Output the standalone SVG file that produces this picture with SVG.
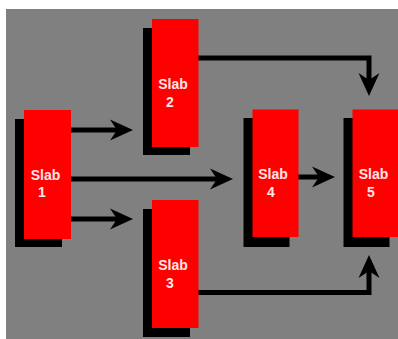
<svg xmlns="http://www.w3.org/2000/svg" width="398" height="339" viewBox="0 0 398 339">
<style>
.bg{fill:#808080}
.sh{fill:#000}
.slab{fill:#ff0000}
.t{font-family:"Liberation Sans",Arial,sans-serif;font-weight:bold;font-size:14px;fill:#ffe6e6;text-anchor:middle}
.c{fill:none;stroke:#000;stroke-width:5;stroke-linejoin:miter}
</style>
<defs>
<marker id="ah" markerUnits="userSpaceOnUse" orient="auto" viewBox="-25 -12 26 24" refX="-12" refY="0" markerWidth="26" markerHeight="24">
<path d="M0,0 L-23,-10.5 L-16,0 L-23,10.5 Z" fill="#000"/>
</marker>
</defs>
<rect class="bg" x="6" y="9" width="392" height="330"/>
<g id="connectors">
<path class="c" d="M70,130 H121" marker-end="url(#ah)"/>
<path class="c" d="M70,179 H221" marker-end="url(#ah)"/>
<path class="c" d="M70,219 H121" marker-end="url(#ah)"/>
<path class="c" d="M298,177 H323" marker-end="url(#ah)"/>
<path class="c" d="M198,58 H369 V84" marker-end="url(#ah)"/>
<path class="c" d="M198,292.5 H369 V267" marker-end="url(#ah)"/>
</g>
<g id="slab1">
<rect class="sh" x="15" y="119" width="47" height="128"/>
<rect class="slab" x="24" y="110" width="47" height="129"/>
<text class="t" x="45.5" y="180">Slab</text>
<text class="t" x="42" y="197">1</text>
</g>
<g id="slab2">
<rect class="sh" x="143" y="28" width="47" height="127"/>
<rect class="slab" x="152" y="19" width="46.5" height="128"/>
<text class="t" x="173" y="88.5">Slab</text>
<text class="t" x="170" y="106.5">2</text>
</g>
<g id="slab3">
<rect class="sh" x="143" y="209" width="47" height="128"/>
<rect class="slab" x="152" y="200" width="46.5" height="128"/>
<text class="t" x="173" y="269.5">Slab</text>
<text class="t" x="170" y="287.5">3</text>
</g>
<g id="slab4">
<rect class="sh" x="243.5" y="118" width="46" height="129"/>
<rect class="slab" x="252.5" y="109.5" width="46" height="127.5"/>
<text class="t" x="273" y="179">Slab</text>
<text class="t" x="271" y="197">4</text>
</g>
<g id="slab5">
<rect class="sh" x="343.5" y="118" width="46" height="129"/>
<rect class="slab" x="352.5" y="109.5" width="46" height="127.5"/>
<text class="t" x="373.5" y="179">Slab</text>
<text class="t" x="371" y="197">5</text>
</g>
</svg>
